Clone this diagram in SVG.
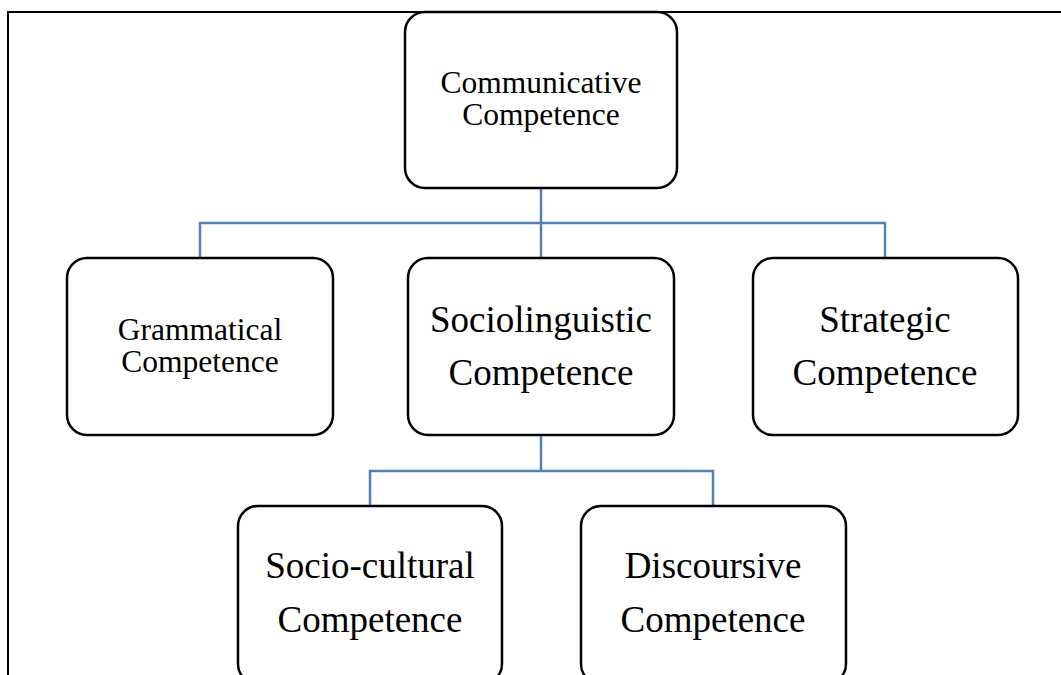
<svg xmlns="http://www.w3.org/2000/svg" width="1061" height="675" viewBox="0 0 1061 675">
<style>
.box{fill:#ffffff;stroke:#000000;stroke-width:2.5}
.conn{fill:none;stroke:#4F81BD;stroke-width:2.5}
.frame{fill:none;stroke:#000000;stroke-width:2}
.t{font-family:"Liberation Serif","Times New Roman",serif;fill:#000000;text-anchor:middle}
.s{font-size:31.5px}
.l{font-size:37px}
</style>
<rect width="1061" height="675" fill="#ffffff"/>
<path class="frame" d="M8,675 V12 H1061"/>
<g id="connectors">
<path class="conn" d="M541,188 V223 M200,258 V223 H885 V258 M541,223 V258"/>
<path class="conn" d="M541,435 V471 M370,506 V471 H713 V506"/>
</g>
<g id="communicative">
<rect class="box" x="405" y="12" width="272" height="176" rx="20"/>
<text class="t s" x="541" y="93">Communicative</text>
<text class="t s" x="541" y="125">Competence</text>
</g>
<g id="grammatical">
<rect class="box" x="67" y="258" width="266" height="177" rx="20"/>
<text class="t s" x="200" y="340">Grammatical</text>
<text class="t s" x="200" y="372">Competence</text>
</g>
<g id="sociolinguistic">
<rect class="box" x="408" y="258" width="266" height="177" rx="20"/>
<text class="t l" x="541" y="332">Sociolinguistic</text>
<text class="t l" x="541" y="385">Competence</text>
</g>
<g id="strategic">
<rect class="box" x="753" y="258" width="265" height="177" rx="20"/>
<text class="t l" x="885" y="332">Strategic</text>
<text class="t l" x="885" y="385">Competence</text>
</g>
<g id="sociocultural">
<rect class="box" x="238" y="506" width="264" height="178" rx="20"/>
<text class="t l" x="370" y="578">Socio-cultural</text>
<text class="t l" x="370" y="632">Competence</text>
</g>
<g id="discoursive">
<rect class="box" x="581" y="506" width="265" height="178" rx="20"/>
<text class="t l" x="713" y="578">Discoursive</text>
<text class="t l" x="713" y="632">Competence</text>
</g>
</svg>
